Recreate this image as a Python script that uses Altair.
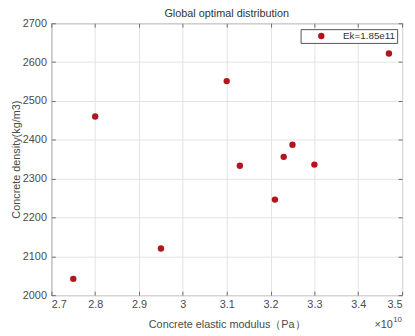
import altair as alt
import pandas as pd

# Data (x in units of 1e10 Pa)
modulus = [2.75, 2.80, 2.95, 3.10, 3.13, 3.21, 3.23, 3.25, 3.30, 3.47]
density = [2042, 2460, 2120, 2551, 2333, 2246, 2356, 2387, 2336, 2622]
series = ["Ek=1.85e11"] * len(modulus)

x_ticks = [2.7, 2.8, 2.9, 3.0, 3.1, 3.2, 3.3, 3.4, 3.5]
y_ticks = [2000, 2100, 2200, 2300, 2400, 2500, 2600, 2700]
exponent_base = ["×10"]
exponent_sup = ["10"]

df = pd.DataFrame({"E": modulus, "rho": density, "s": series})

FONT = "Liberation Sans"
TXT = "#4a4a4a"
FRAME = "#6e6e6e"
W, H = 356, 276

xs = alt.Scale(domain=[2.7, 3.5], nice=False, zero=False)
ys = alt.Scale(domain=[2000, 2700], nice=False, zero=False)

base = alt.Chart(df)

points = base.mark_circle(size=42, opacity=1).encode(
    x=alt.X("E:Q", scale=xs, axis=alt.Axis(
        orient="bottom", values=x_ticks, format="~g", grid=True,
        gridColor="#e3e3e3", ticks=False, domain=False,
        labelFont=FONT, labelFontSize=11, labelColor=TXT, labelPadding=4,
        title="Concrete elastic modulus（Pa）", titleFont=FONT,
        titleFontSize=11, titleFontWeight="normal", titleColor=TXT,
        titlePadding=9)),
    y=alt.Y("rho:Q", scale=ys, axis=alt.Axis(
        orient="left", values=y_ticks, format="d", grid=True, gridColor="#e3e3e3",
        ticks=False, domain=False,
        labelFont=FONT, labelFontSize=11, labelColor=TXT, labelPadding=5,
        title="Concrete density(kg/m3)", titleFont=FONT, titleFontSize=11,
        titleFontWeight="normal", titleColor=TXT, titlePadding=1)),
    color=alt.Color("s:N", scale=alt.Scale(range=["#b2161c"]), legend=alt.Legend(
        title=None, orient="none", legendX=253, legendY=6,
        strokeColor="#555555", fillColor="white", padding=2,
        symbolType="circle", symbolSize=42, symbolOffset=14,
        labelOffset=17, labelFont=FONT, labelFontSize=10, labelColor="#333333")),
)

def tick_layer(xorient, yorient):
    return base.mark_point(opacity=0).encode(
        x=alt.X("E:Q", scale=xs, axis=alt.Axis(
            orient=xorient, values=x_ticks, labels=False, grid=False,
            domain=False, ticks=True, tickSize=4, tickColor=FRAME,
            offset=-4, title=None)),
        y=alt.Y("rho:Q", scale=ys, axis=alt.Axis(
            orient=yorient, values=y_ticks, labels=False, grid=False,
            domain=False, ticks=True, tickSize=4, tickColor=FRAME,
            offset=-4, title=None)),
    )

exp_base = alt.Chart(pd.DataFrame({"t": exponent_base})).mark_text(
    font=FONT, fontSize=11, color=TXT, align="left", baseline="middle"
).encode(x=alt.value(328), y=alt.value(306), text="t:N")
exp_sup = alt.Chart(pd.DataFrame({"t": exponent_sup})).mark_text(
    font=FONT, fontSize=8, color=TXT, align="left", baseline="middle"
).encode(x=alt.value(347), y=alt.value(301), text="t:N")

chart = alt.layer(points, tick_layer("bottom", "left"), tick_layer("top", "right"),
                  exp_base, exp_sup).resolve_axis(
    x="independent", y="independent"
).properties(
    width=W, height=H,
    title=alt.Title("Global optimal distribution", font=FONT, fontSize=11,
                    fontWeight="normal", color="#333333", offset=2, dy=4),
    padding={"left": 44, "top": 13, "right": 5, "bottom": 38},
    autosize=alt.AutoSizeParams(type="none"),
).configure_view(stroke=FRAME, strokeWidth=1)

chart.save("out.html", embed_options={"renderer": "svg", "actions": False})
